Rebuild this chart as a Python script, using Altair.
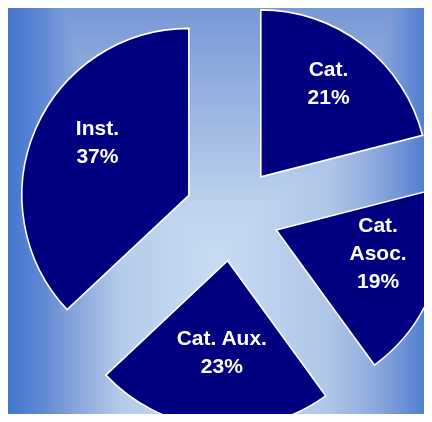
import altair as alt
import pandas as pd

# Data
categories = ["Cat.", "Cat.\nAsoc.", "Cat. Aux.", "Inst."]
values = [21, 19, 23, 37]
order = [0, 1, 2, 3]

df = pd.DataFrame({"cat": categories, "value": values, "order": order})
bg = pd.DataFrame({"k": [0]})

W, H = 416, 406
CX, CY = 224, 206      # pie centre (chart px)
EXPLODE = 47           # slice offset
R = 167                # pie radius
LR = 104               # label distance from slice apex
LH = 28                # label line height

h_grad = {
    "gradient": "linear", "x1": 0, "y1": 0, "x2": 1, "y2": 0,
    "stops": [
        {"offset": 0.0, "color": "#3d72cf"},
        {"offset": 0.1, "color": "#6089d4"},
        {"offset": 0.19, "color": "#8eaadd"},
        {"offset": 0.28, "color": "#b5cbea"},
        {"offset": 0.5, "color": "#c8dcf2"},
        {"offset": 0.76, "color": "#b0c6e8"},
        {"offset": 0.88, "color": "#88a6dc"},
        {"offset": 1.0, "color": "#4878d0"},
    ],
}
v_grad = {
    "gradient": "linear", "x1": 0, "y1": 0, "x2": 0, "y2": 1,
    "stops": [
        {"offset": 0.0, "color": "#7596d6"},
        {"offset": 0.32, "color": "#a4bce4"},
        {"offset": 0.48, "color": "#bcd2ee"},
        {"offset": 0.62, "color": "#c8dcf2"},
        {"offset": 1.0, "color": "#c8dcf2"},
    ],
}

bg_pos = dict(x=alt.value(-8), x2=alt.value(432 - 8), y=alt.value(-8), y2=alt.value(422 - 8))
bg1 = alt.Chart(bg).mark_rect(fill=h_grad).encode(**bg_pos)
bg2 = alt.Chart(bg).mark_rect(fill=v_grad, blend="darken").encode(**bg_pos)

base = (
    alt.Chart(df)
    .transform_joinaggregate(total="sum(value)")
    .transform_window(cum="sum(value)", sort=[alt.SortField("order")],
                      frame=[None, 0])
    .transform_calculate(
        start="(datum.cum - datum.value) / datum.total * 2 * PI",
        end="datum.cum / datum.total * 2 * PI",
    )
    .transform_calculate(mid="(datum.start + datum.end) / 2")
    .transform_calculate(
        cx=f"{CX} + {EXPLODE} * sin(datum.mid)",
        cy=f"{CY} - {EXPLODE} * cos(datum.mid)",
        label="datum.cat + '\\n' + datum.value + '%'",
    )
    .transform_calculate(
        nlines="length(split(datum.label, '\\n'))",
    )
    .transform_calculate(
        lx=f"datum.cx + {LR} * sin(datum.mid) + 4",
        ly=f"datum.cy - {LR} * cos(datum.mid) - 11 - (datum.nlines - 1) * {LH} / 2",
    )
)

arcs = base.mark_arc(radius=R, fill="#000080", stroke="white", strokeWidth=1.6).encode(
    x=alt.X("cx:Q", scale=None, axis=None),
    y=alt.Y("cy:Q", scale=None, axis=None),
    theta=alt.Theta("start:Q", scale=None, stack=None),
    theta2=alt.Theta2("end:Q"),
)

labels = base.mark_text(
    color="white", font="Liberation Sans", fontWeight="bold", fontSize=21,
    lineBreak="\n", lineHeight=LH, align="center", baseline="middle",
).encode(
    x=alt.X("lx:Q", scale=None, axis=None),
    y=alt.Y("ly:Q", scale=None, axis=None),
    text="label:N",
)

chart = (
    alt.layer(bg1, bg2, arcs, labels)
    .properties(width=W, height=H, autosize="none", padding=0)
    .configure_view(stroke=None)
)

chart.save("out.html", embed_options={"renderer": "svg", "actions": False})
